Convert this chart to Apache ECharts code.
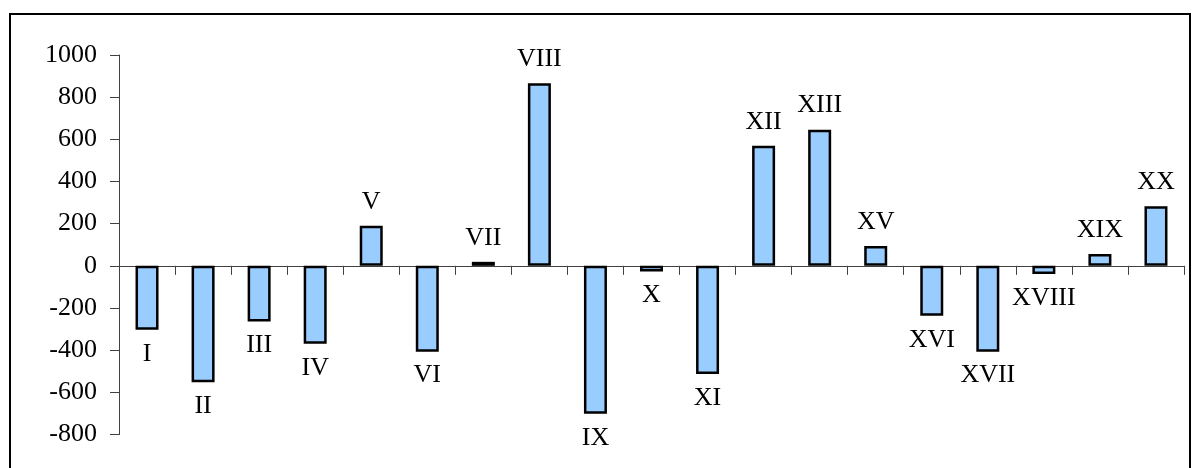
<!DOCTYPE html>
<html>
<head>
<meta charset="utf-8">
<script src="https://cdn.jsdelivr.net/npm/echarts@6/dist/echarts.min.js"></script>
<style>
html,body{margin:0;padding:0;background:#fff;}
#c{width:1193px;height:468px;}
</style>
</head>
<body>
<div id="c"></div>
<script>
const categories = ['I','II','III','IV','V','VI','VII','VIII','IX','X','XI','XII','XIII','XV','XVI','XVII','XVIII','XIX','XX'];
const values = [-303,-552,-264,-370,190,-407,19,866,-702,-27,-513,569,646,94,-237,-407,-39,56,283];
const yTicks = {min:-800, max:1000, interval:200};

const chart = echarts.init(document.getElementById('c'), null, {renderer:'canvas'});
const font = '"Liberation Serif","Times New Roman",serif';
chart.setOption({
  animation:false,
  backgroundColor:'#fff',
  grid:{left:119, right:9, top:55, bottom:33.5, containLabel:false},
  graphic:[{
    type:'rect', z:100,
    shape:{x:10, y:14, width:1180, height:520},
    style:{fill:'none', stroke:'#000', lineWidth:2}
  }],
  xAxis:{
    type:'category', data:categories,
    axisLine:{onZero:true, lineStyle:{color:'#404040', width:1}},
    axisTick:{show:true, length:9, inside:false, lineStyle:{color:'#404040'}},
    axisLabel:{show:false},
    splitLine:{show:false}
  },
  yAxis:{
    type:'value', min:yTicks.min, max:yTicks.max, interval:yTicks.interval,
    axisLine:{show:true, lineStyle:{color:'#404040', width:1}},
    axisTick:{show:true, length:9, lineStyle:{color:'#404040'}},
    axisLabel:{fontFamily:font, fontSize:26, color:'#000', margin:22, formatter:v=>String(v)},
    splitLine:{show:false}
  },
  series:[{
    type:'bar', barWidth:23,
    data: values.map(v => ({value:v, label:{position: v>=0 ? 'top' : 'bottom'}})),
    itemStyle:{color:'#99CCFF', borderColor:'#000', borderWidth:2.5},
    label:{show:true, formatter:p=>p.name, fontFamily:font, fontSize:26, color:'#000', distance:11, lineHeight:26}
  }]
});
</script>
</body>
</html>
